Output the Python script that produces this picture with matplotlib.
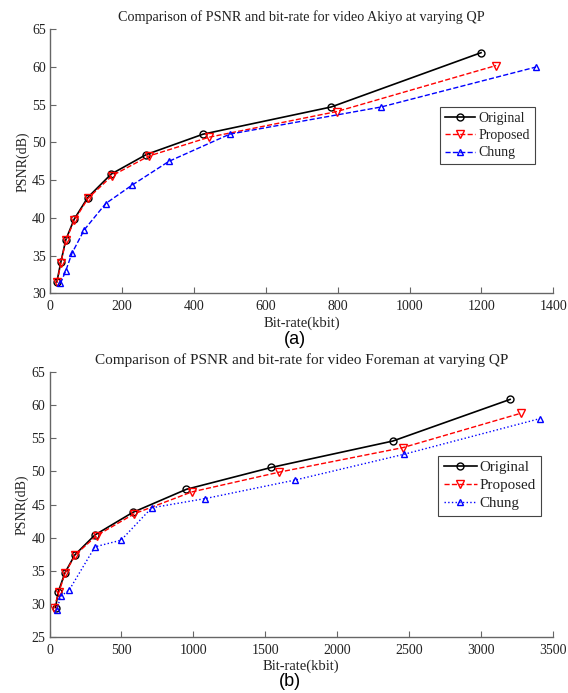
import numpy as np
import matplotlib.pyplot as plt

plt.rcParams['font.family'] = ['Liberation Serif', 'DejaVu Serif']

# (a) Akiyo
akiyo_orig_rate = [19, 30, 44, 67, 105, 170, 268, 426, 782, 1199]
akiyo_orig_psnr = [31.5, 34.1, 37.1, 39.8, 42.7, 45.8, 48.4, 51.1, 54.7, 61.9]
akiyo_prop_rate = [20, 30, 44, 68, 106, 173, 275, 443, 798, 1241]
akiyo_prop_psnr = [31.5, 34.0, 37.0, 39.7, 42.6, 45.6, 48.2, 50.7, 54.1, 60.2]
akiyo_chung_rate = [29, 44, 61, 95, 155, 227, 331, 500, 921, 1352]
akiyo_chung_psnr = [31.3, 33.0, 35.3, 38.4, 41.9, 44.3, 47.5, 51.1, 54.7, 60.0]

# (b) Foreman
fore_orig_rate = [42, 61, 108, 177, 316, 578, 951, 1540, 2385, 3200]
fore_orig_psnr = [29.4, 31.8, 34.7, 37.4, 40.4, 43.8, 47.3, 50.6, 54.6, 60.9]
fore_prop_rate = [30, 65, 108, 180, 328, 589, 988, 1597, 2454, 3274]
fore_prop_psnr = [29.3, 31.7, 34.6, 37.4, 40.3, 43.6, 46.9, 49.9, 53.6, 58.8]
fore_chung_rate = [50, 78, 138, 316, 497, 710, 1083, 1706, 2463, 3408]
fore_chung_psnr = [29.0, 31.1, 32.1, 38.6, 39.6, 44.5, 45.9, 48.7, 52.6, 58.0]

fig = plt.figure(figsize=(5.68, 6.93), dpi=100)
W, H = 568, 693
ax1 = fig.add_axes([50 / W, 1 - 293.3 / H, 503.3 / W, 264 / H])
ax2 = fig.add_axes([49.5 / W, 1 - 636.7 / H, 503.8 / W, 264.4 / H])

txt = '#222222'
spine = '#666666'


def style(ax, xlim, xticks, ylim, yticks, title, title_size):
    ax.set_xlim(*xlim)
    ax.set_ylim(*ylim)
    ax.set_xticks(xticks)
    ax.set_yticks(yticks)
    for s in ['top', 'right']:
        ax.spines[s].set_visible(False)
    for s in ['left', 'bottom']:
        ax.spines[s].set_color(spine)
        ax.spines[s].set_linewidth(1.0)
    ax.tick_params(direction='in', length=4, width=0.8, color=spine,
                   labelsize=10, labelcolor=txt)
    ax.tick_params(axis='x', pad=5)
    ax.tick_params(axis='y', pad=3)
    ax.set_title(title, fontsize=title_size, color=txt, pad=6)
    ax.set_xlabel('Bit-rate(kbit)', fontsize=10.5, color=txt, labelpad=2)
    ax.set_ylabel('PSNR(dB)', fontsize=10, color=txt, labelpad=2)


ms = 5
ax1.plot(akiyo_orig_rate, akiyo_orig_psnr, '-', color='black', lw=1.2,
         marker='o', mfc='none', ms=ms, label='Original')
ax1.plot(akiyo_prop_rate, akiyo_prop_psnr, '--', color='red', lw=1.0,
         marker='v', mfc='none', ms=ms + 1, label='Proposed')
ax1.plot(akiyo_chung_rate, akiyo_chung_psnr, '--', color='blue', lw=1.0,
         marker='^', mfc='none', ms=ms, label='Chung')
style(ax1, (0, 1400), np.arange(0, 1401, 200), (30, 65), np.arange(30, 66, 5),
      'Comparison of PSNR and bit-rate for video Akiyo at varying QP', 10.2)

ax2.plot(fore_orig_rate, fore_orig_psnr, '-', color='black', lw=1.2,
         marker='o', mfc='none', ms=ms, label='Original')
ax2.plot(fore_prop_rate, fore_prop_psnr, '--', color='red', lw=1.0,
         marker='v', mfc='none', ms=ms + 1, label='Proposed')
ax2.plot(fore_chung_rate, fore_chung_psnr, ':', color='blue', lw=1.0,
         marker='^', mfc='none', ms=ms, label='Chung')
style(ax2, (0, 3500), np.arange(0, 3501, 500), (25, 65), np.arange(25, 66, 5),
      'Comparison of PSNR and bit-rate for video Foreman at varying QP', 11)

for ax, anchor, fs in [(ax1, (0.775, 0.705), 10), (ax2, (0.772, 0.685), 10.8)]:
    leg = ax.legend(loc='upper left', bbox_to_anchor=anchor, fontsize=fs,
                    frameon=True, fancybox=False, framealpha=1,
                    handlelength=2.2, handletextpad=0.2, borderpad=0.35,
                    labelspacing=0.3, borderaxespad=0)
    leg.get_frame().set_edgecolor('#444444')
    leg.get_frame().set_linewidth(0.8)
    for t in leg.get_texts():
        t.set_color(txt)

fig.text(295 / W, 1 - 340 / H, '(a)', ha='center', va='center', fontsize=13,
         family=['Liberation Sans', 'DejaVu Sans'], color='black')
fig.text(290 / W, 1 - 681 / H, '(b)', ha='center', va='center', fontsize=13,
         family=['Liberation Sans', 'DejaVu Sans'], color='black')

fig.savefig('out.png', dpi=100)
